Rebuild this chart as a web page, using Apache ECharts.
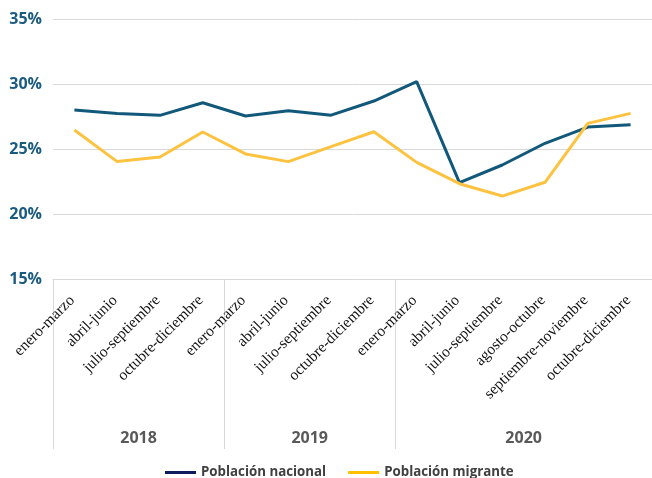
<!DOCTYPE html>
<html>
<head>
<meta charset="utf-8">
<script src="https://cdn.jsdelivr.net/npm/echarts@6/dist/echarts.min.js"></script>
<style>
html,body{margin:0;padding:0;background:#fff;}
#chart{width:652px;height:478px;}
</style>
</head>
<body>
<div id="chart"></div>
<script>
var categories = ['enero-marzo','abril-junio','julio-septiembre','octubre-diciembre',
  'enero-marzo','abril-junio','julio-septiembre','octubre-diciembre',
  'enero-marzo','abril-junio','julio-septiembre','agosto-octubre','septiembre-noviembre','octubre-diciembre'];
var nacional = [28.0, 27.74, 27.59, 28.56, 27.54, 27.95, 27.6, 28.69, 30.18, 22.41, 23.77, 25.44, 26.69, 26.87];
var migrante = [26.46, 24.03, 24.38, 26.31, 24.62, 24.03, 25.18, 26.33, 23.97, 22.33, 21.38, 22.44, 26.97, 27.74];
var years = ['2018','2019','2020'];
var yearCounts = [4, 4, 6];
var yTicks = [15, 20, 25, 30, 35];

var bounds = [0], centers = [], acc = 0;
yearCounts.forEach(function(c){ centers.push(acc + c/2); acc += c; bounds.push(acc); });

var chart = echarts.init(document.getElementById('chart'));
chart.setOption({
  animation: false,
  backgroundColor: '#fff',
  grid: {left: 53, right: -3, top: 19, bottom: 199, containLabel: false},
  legend: {
    left: 160, bottom: -6,
    itemWidth: 31, itemHeight: 3, itemGap: 22,
    textStyle: {fontFamily: 'Open Sans', fontWeight: 'bold', fontSize: 13.3, color: '#404040'},
    data: [
      {name: 'Población nacional', icon: 'rect', itemStyle: {color: '#0d1c5c'}},
      {name: 'Población migrante', icon: 'rect', itemStyle: {color: '#ffc000'}}
    ]
  },
  xAxis: [{
    type: 'category', data: categories, boundaryGap: true,
    axisLine: {show: true, lineStyle: {color: '#d9d9d9', width: 1}},
    axisTick: {show: false},
    axisLabel: {interval: 0, rotate: 45, margin: 17, padding: [0, 3, 0, 0], fontFamily: 'Liberation Serif', fontSize: 15.5, color: '#111'}
  }, {
    type: 'value', min: 0, max: categories.length, position: 'bottom',
    axisLine: {show: false},
    splitLine: {show: false},
    axisTick: {show: true, length: 170, customValues: bounds, lineStyle: {color: '#d9d9d9', width: 1}},
    axisLabel: {customValues: centers, margin: 151,
      formatter: function(v){ var i = centers.indexOf(v); return i >= 0 ? years[i] : ''; },
      fontFamily: 'Open Sans', fontWeight: 'bold', fontSize: 16, color: '#595959'}
  }],
  yAxis: {
    type: 'value', min: yTicks[0], max: yTicks[yTicks.length-1], interval: 5,
    axisLine: {show: false}, axisTick: {show: false},
    splitLine: {lineStyle: {color: '#d9d9d9', width: 1}},
    axisLabel: {formatter: '{value}%', margin: 11, fontFamily: 'Open Sans', fontWeight: 'bold', fontSize: 16, color: '#1b5b80'}
  },
  series: [{
    name: 'Población nacional', type: 'line', data: nacional, xAxisIndex: 0,
    symbol: 'none', lineStyle: {color: '#11587a', width: 3}, itemStyle: {color: '#11587a'}
  }, {
    name: 'Población migrante', type: 'line', data: migrante, xAxisIndex: 0,
    symbol: 'none', lineStyle: {color: '#fdc340', width: 3}, itemStyle: {color: '#fdc340'}
  }]
});
</script>
</body>
</html>
